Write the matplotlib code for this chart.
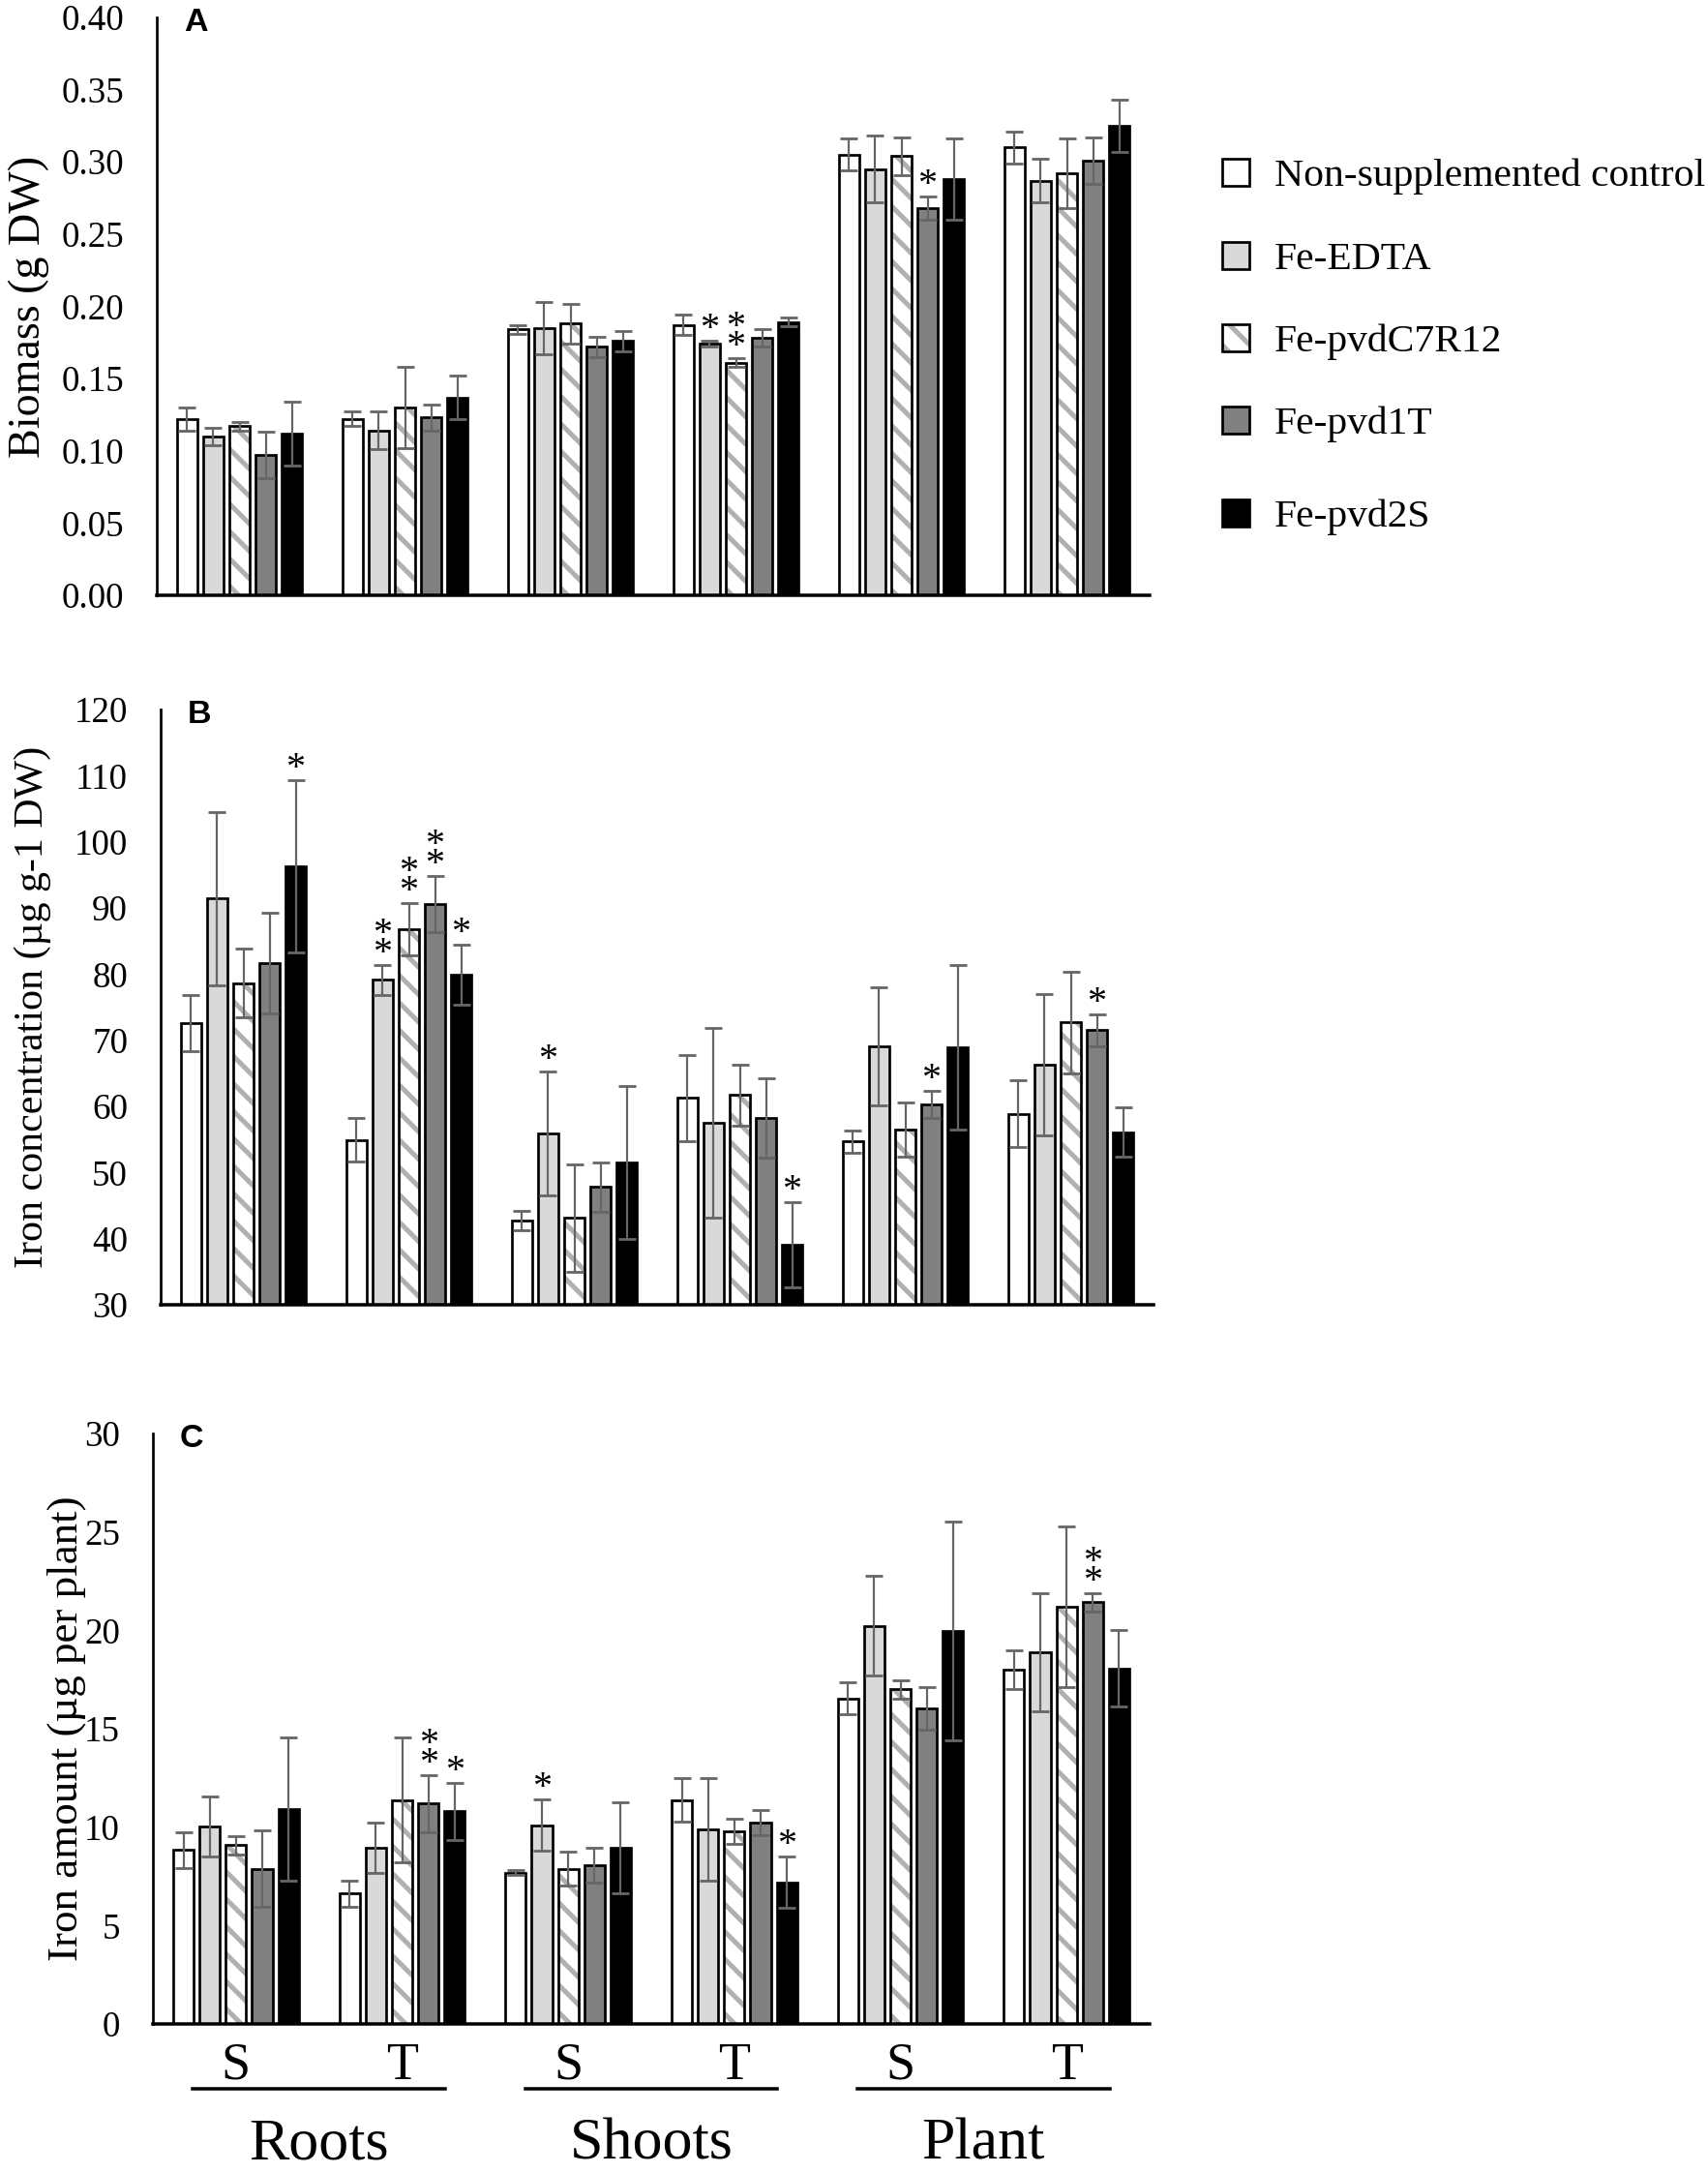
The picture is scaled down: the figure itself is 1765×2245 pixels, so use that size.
import numpy as np
import matplotlib
matplotlib.use("Agg")
import matplotlib.pyplot as plt
from matplotlib.patches import Rectangle
from matplotlib.lines import Line2D
import matplotlib.transforms as mtransforms

# ---- data ----
treatments = ["Non-supplemented control", "Fe-EDTA", "Fe-pvdC7R12", "Fe-pvd1T", "Fe-pvd2S"]
organs = ["Roots", "Shoots", "Plant"]
cultivars = ["S", "T"]

# rows: Roots S, Roots T, Shoots S, Shoots T, Plant S, Plant T
biomass = [[0.122, 0.110, 0.117, 0.097, 0.112],
           [0.122, 0.114, 0.130, 0.123, 0.137],
           [0.184, 0.185, 0.188, 0.172, 0.176],
           [0.187, 0.174, 0.161, 0.178, 0.189],
           [0.305, 0.295, 0.304, 0.268, 0.288],
           [0.310, 0.287, 0.292, 0.301, 0.325]]
biomass_err = [[0.008, 0.006, 0.003, 0.016, 0.022],
               [0.005, 0.013, 0.028, 0.009, 0.015],
               [0.003, 0.018, 0.014, 0.007, 0.007],
               [0.007, 0.002, 0.003, 0.006, 0.003],
               [0.011, 0.023, 0.013, 0.008, 0.028],
               [0.011, 0.015, 0.024, 0.016, 0.018]]

fe_conc = [[72.6, 91.4, 78.6, 81.6, 96.3],
           [54.9, 79.1, 86.8, 90.6, 79.9],
           [42.7, 55.9, 43.1, 47.8, 51.5],
           [61.3, 57.5, 61.7, 58.2, 39.1],
           [54.7, 69.1, 56.5, 60.3, 68.9],
           [58.9, 66.3, 72.7, 71.5, 56.1]]
fe_conc_err = [[4.3, 13.1, 5.2, 7.6, 13.0],
               [3.3, 2.2, 4.0, 4.2, 4.6],
               [1.5, 9.4, 8.1, 3.7, 11.6],
               [6.5, 14.3, 4.6, 6.0, 6.4],
               [1.7, 8.9, 4.1, 2.1, 12.4],
               [5.0, 10.7, 7.7, 2.4, 3.7]]

fe_amount = [[8.83, 10.05, 9.08, 7.89, 10.94],
             [6.62, 8.96, 11.37, 11.20, 10.81],
             [7.68, 10.10, 7.89, 8.07, 8.96],
             [11.37, 9.87, 9.80, 10.23, 7.20],
             [16.54, 20.23, 17.00, 16.03, 19.97],
             [18.02, 18.88, 21.20, 21.42, 18.07]]
fe_amount_err = [[0.89, 1.53, 0.46, 1.96, 3.64],
                 [0.68, 1.27, 3.18, 1.45, 1.45],
                 [0.13, 1.30, 0.84, 0.89, 2.31],
                 [1.10, 2.60, 0.63, 0.64, 1.32],
                 [0.81, 2.54, 0.48, 1.07, 5.55],
                 [0.98, 3.00, 4.07, 0.46, 1.96]]

# significance: (group, treatment, number of stars)
stars_a = [(3, 1, 1), (3, 2, 2), (4, 3, 1)]
stars_b = [(0, 4, 1), (1, 1, 2), (1, 2, 2), (1, 3, 2), (1, 4, 1),
           (2, 1, 1), (3, 4, 1), (4, 3, 1), (5, 3, 1)]
stars_c = [(1, 3, 2), (1, 4, 1), (2, 1, 1), (3, 4, 1), (5, 3, 2)]

# ---- style ----
DPI = 170
W, H = 1765, 2245

def px(v):
    return v * 72.0 / DPI

SERIF = "Liberation Serif"
SANS = "Liberation Sans"
face = ["white", "#d9d9d9", "white", "#808080", "black"]
hatches = [None, None, "\\\\", None, None]
hatch_col = "#b0b0b0"
ecol = "#666666"

plt.rcParams["hatch.linewidth"] = px(5)
plt.rcParams["font.family"] = SERIF

fig = plt.figure(figsize=(W / DPI, H / DPI), dpi=DPI)


def make_axes(l, r, t, b):
    return fig.add_axes([l / W, 1 - b / H, (r - l) / W, (b - t) / H])


x = np.arange(6)
pitch, width = 0.158, 0.123


def panel(ax, means, errs, stars, ylim, yticks, fmt, ylabel, ylab_size, ylab_x, letter):
    means = np.array(means)
    errs = np.array(errs)
    for j in range(5):
        xs = x + (j - 2) * pitch
        if hatches[j]:
            ax.bar(xs, means[:, j], width, color=face[j], edgecolor=hatch_col,
                   hatch=hatches[j], linewidth=0, zorder=2)
            ax.bar(xs, means[:, j], width, fill=False, edgecolor="black",
                   linewidth=px(2.7), zorder=3)
        else:
            ax.bar(xs, means[:, j], width, color=face[j], edgecolor="black",
                   linewidth=px(2.7), zorder=2)
        ax.errorbar(xs, means[:, j], yerr=errs[:, j], fmt="none", ecolor=ecol,
                    elinewidth=px(2.2), capsize=px(9), capthick=px(2.8), zorder=4)
    for g, j, n in stars:
        top = means[g, j] + errs[g, j]
        for k in range(n):
            ax.annotate("*", (g + (j - 2) * pitch, top), xytext=(0, px(2 + 20 * k)),
                        textcoords="offset points", ha="center", va="baseline",
                        fontsize=px(40), family=SERIF, zorder=5)
    ax.set_xlim(-0.5, 5.5)
    ax.set_ylim(*ylim)
    ax.set_yticks(yticks)
    ax.set_yticklabels([fmt % v for v in yticks], fontsize=px(37), family=SERIF)
    ax.set_xticks([])
    ax.tick_params(axis="y", length=0, pad=px(34))
    for s in ["top", "right"]:
        ax.spines[s].set_visible(False)
    ax.spines["left"].set_linewidth(px(2.7))
    ax.spines["bottom"].set_linewidth(px(3.5))
    ax.set_ylabel(ylabel, fontsize=px(ylab_size), family=SERIF)
    ax.yaxis.set_label_coords(ylab_x, 0.5)
    pos = ax.get_position()
    ax.text(28 / (pos.width * W), 1 + 10 / (pos.height * H), letter,
            transform=ax.transAxes, ha="left", va="top",
            fontsize=px(34), family=SANS, fontweight="bold")


ax_a = make_axes(162, 1188, 18, 615)
panel(ax_a, biomass, biomass_err, stars_a, (0, 0.40), np.arange(0, 0.401, 0.05), "%.2f",
      "Biomass (g DW)", 46, (51 - 162) / 1026, "A")

ax_b = make_axes(166, 1192, 733, 1348)
panel(ax_b, fe_conc, fe_conc_err, stars_b, (30, 120), np.arange(30, 121, 10), "%d",
      "Iron concentration (µg g-1 DW)", 42, (53 - 166) / 1026, "B")

ax_c = make_axes(158, 1188, 1481, 2091)
panel(ax_c, fe_amount, fe_amount_err, stars_c, (0, 30), np.arange(0, 31, 5), "%d",
      "Iron amount (µg per plant)", 45, (89 - 158) / 1030, "C")

# category labels under panel C
trans = mtransforms.blended_transform_factory(ax_c.transData, ax_c.transAxes)
for i in range(6):
    ax_c.text(x[i], -0.0934, cultivars[i % 2], transform=trans, ha="center", va="baseline",
              fontsize=px(54), family=SERIF, clip_on=False)
for k, org in enumerate(organs):
    c = 2 * k + 0.5
    ax_c.add_line(Line2D([c - 0.76, c + 0.76], [-0.110, -0.110], transform=trans,
                         color="black", linewidth=px(3.5), clip_on=False))
    ax_c.text(c, -0.229, org, transform=trans, ha="center", va="baseline",
              fontsize=px(62), family=SERIF, clip_on=False)

# legend
rows = [178, 264, 349, 434, 530]
sq = 28
for j, (lab, yc) in enumerate(zip(treatments, rows)):
    if hatches[j]:
        fig.patches.append(Rectangle((1263 / W, 1 - (yc + sq / 2) / H), sq / W, sq / H,
                                     transform=fig.transFigure, facecolor="white",
                                     edgecolor=hatch_col, hatch=hatches[j], linewidth=0))
        fig.patches.append(Rectangle((1263 / W, 1 - (yc + sq / 2) / H), sq / W, sq / H,
                                     transform=fig.transFigure, fill=False,
                                     edgecolor="black", linewidth=px(2.7)))
    else:
        fig.patches.append(Rectangle((1263 / W, 1 - (yc + sq / 2) / H), sq / W, sq / H,
                                     transform=fig.transFigure, facecolor=face[j],
                                     edgecolor="black", linewidth=px(2.7)))
    fig.text(1317 / W, 1 - (yc + 14) / H, lab, ha="left", va="baseline",
             fontsize=px(41.5), family=SERIF)

fig.savefig("out.png", dpi=DPI)
